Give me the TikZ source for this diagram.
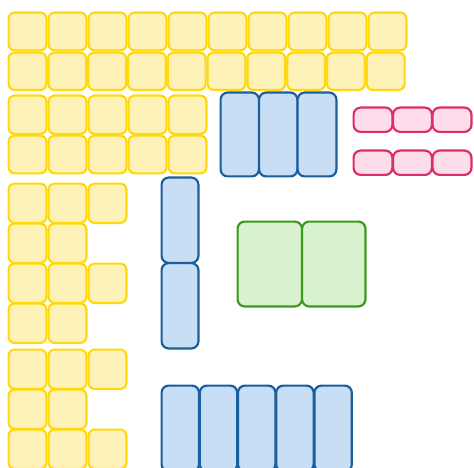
\documentclass[tikz,border=0pt]{standalone}
\definecolor{yfill}{HTML}{FFF2B8}
\definecolor{ydraw}{HTML}{FFD80F}
\definecolor{bfill}{HTML}{C8DEF4}
\definecolor{bdraw}{HTML}{1B5E9E}
\definecolor{pfill}{HTML}{FDDDEB}
\definecolor{pdraw}{HTML}{DC2E64}
\definecolor{gfill}{HTML}{D8F2CF}
\definecolor{gdraw}{HTML}{3A9A1E}
\tikzset{
  ybox/.style={fill=yfill,draw=ydraw,line width=2.2pt,rounded corners=6pt},
  bbox/.style={fill=bfill,draw=bdraw,line width=2.2pt,rounded corners=7pt},
  pbox/.style={fill=pfill,draw=pdraw,line width=2.2pt,rounded corners=7pt},
  gbox/.style={fill=gfill,draw=gdraw,line width=2.2pt,rounded corners=7pt}
}
\newcommand{\bx}[5]{\path[#1] ({#2+0.6},{#3+0.6}) rectangle ({#4-0.6},{#5-0.6});}
\begin{document}
\begin{tikzpicture}[x=1pt,y=-1pt]
\clip (0,0) rectangle (474,468);
% yellow top rows
\foreach \i in {0,...,9} {\bx{ybox}{8+40*\i}{12}{47+40*\i}{51}}
\foreach \i in {0,...,9} {\bx{ybox}{8+39.8*\i}{52}{47+39.8*\i}{90.5}}
\foreach \i in {0,...,4} {\bx{ybox}{8+40*\i}{95}{47+40*\i}{134.5}}
\foreach \i in {0,...,4} {\bx{ybox}{8+40*\i}{135}{47+40*\i}{174}}
% yellow left column groups
\foreach \y/\n in {183/2,223/1,263/2,303/1,349/2,389/1,429/2} {
  \foreach \i in {0,...,\n} {\bx{ybox}{8+40*\i}{\y}{47+40*\i}{\y+40.5}}
}
% blue three tall
\bx{bbox}{220}{92}{259.5}{177}
\bx{bbox}{258.5}{92}{298}{177}
\bx{bbox}{297}{92}{337}{177}
% blue vertical pair
\bx{bbox}{161}{177}{199}{263.5}
\bx{bbox}{161}{262.5}{199}{349}
% blue bottom row
\foreach \i in {0,...,4} {\bx{bbox}{161+38.2*\i}{385}{199.6+38.2*\i}{472}}
% pink
\foreach \i in {0,...,2} {\bx{pbox}{353+39.5*\i}{107}{393+39.5*\i}{132.5}}
\foreach \i in {0,...,2} {\bx{pbox}{353+39.5*\i}{150}{393+39.5*\i}{175.5}}
% green
\bx{gbox}{237}{221}{302.5}{307}
\bx{gbox}{301.5}{221}{366}{307}
\end{tikzpicture}
\end{document}
